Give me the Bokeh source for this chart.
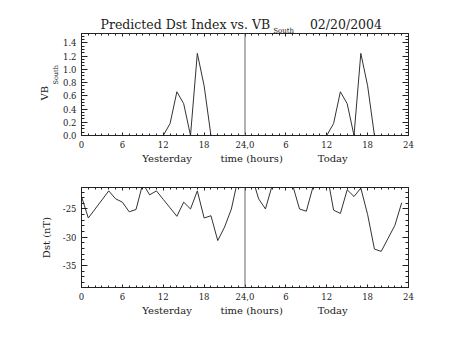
from bokeh.plotting import figure
from bokeh.layouts import column
from bokeh.models import (Range1d, FixedTicker, LinearAxis, Span, Title,
                          ColumnDataSource)
from bokeh.embed import file_html
from bokeh.resources import INLINE

# ---------------- data ----------------
hours = list(range(48))

vb_south = [0, 0, 0, 0, 0, 0, 0, 0, 0, 0, 0, 0,
            0, 0.18, 0.66, 0.48, 0, 1.24, 0.75, 0, 0, 0, 0, 0,
            0, 0, 0, 0, 0, 0, 0, 0, 0, 0, 0, 0,
            0, 0.18, 0.66, 0.48, 0, 1.24, 0.75, 0, 0, 0, 0, 0]

dst = [-22.8, -26.6, -25.0, -23.4, -21.8, -23.2, -23.8, -25.5,
       -25.1, -20.5, -22.5, -21.8, -23.3, -24.8, -26.3, -23.8,
       -25.0, -21.8, -26.6, -26.2, -30.6, -28.2, -25.0, -19.5,
       -19.0, -19.2, -23.2, -25.0, -20.8, -20.0, -20.3, -20.8,
       -25.0, -25.4, -21.0, -20.0, -18.5, -25.2, -25.8, -21.6,
       -22.8, -21.3, -26.0, -32.1, -32.5, -30.2, -27.9, -23.9]

x_ticks = [0, 6, 12, 18, 24, 30, 36, 42, 48]
x_tick_labels = ["0", "6", "12", "18", "24,0", "6", "12", "18", "24"]
x_minor = list(range(49))

vb_ticks = [0.0, 0.2, 0.4, 0.6, 0.8, 1.0, 1.2, 1.4]
vb_tick_labels = ["0.0", "0.2", "0.4", "0.6", "0.8", "1.0", "1.2", "1.4"]
vb_minor = [i * 0.05 for i in range(31)]

dst_ticks = [-35, -30, -25]
dst_tick_labels = ["-35", "-30", "-25"]
dst_minor = list(range(-38, -21))

NB = "\u00a0"
title_main = "Predicted Dst Index vs. VB" + NB * 10 + "02/20/2004"
title_sub = "South"
x_title = "Yesterday" + NB * 9 + "time (hours)" + NB * 11 + "Today"
y1_main = "VB"
y1_sub = "South"
y2_title = "Dst (nT)"

FONT = "DejaVu Serif"
INK = "#222222"
LINE = "#333333"


def style_axis(ax, ticks, labels, minor, tick_in, minor_in, show_labels=True):
    ax.ticker = FixedTicker(ticks=ticks, minor_ticks=minor)
    ax.major_tick_in = tick_in
    ax.major_tick_out = 0
    ax.minor_tick_in = minor_in
    ax.minor_tick_out = 0
    ax.axis_line_color = INK
    ax.major_tick_line_color = INK
    ax.minor_tick_line_color = INK
    ax.major_label_text_font = FONT
    ax.major_label_text_color = INK
    if show_labels:
        ax.major_label_overrides = {t: l for t, l in zip(ticks, labels)}
        ax.major_label_text_font_size = "8.5px"
        ax.major_label_standoff = 5
    else:
        ax.major_label_overrides = {t: "" for t in ticks}
        ax.major_label_text_font_size = "0px"
        ax.major_label_standoff = 0


def make_fig(ymin, ymax, yticks, ylabels, yminor, top, bottom):
    p = figure(width=453, height=170, x_range=Range1d(0, 48),
               y_range=Range1d(ymin, ymax), title_location=None,
               output_backend="svg", toolbar_location=None,
               min_border_left=81, min_border_right=45,
               min_border_top=top, min_border_bottom=bottom)
    p.grid.visible = False
    p.outline_line_color = INK
    p.background_fill_color = "white"
    p.border_fill_color = "white"
    xb = p.below[0]
    yl = p.left[0]
    style_axis(xb, x_ticks, x_tick_labels, x_minor, 3, 2)
    style_axis(yl, yticks, ylabels, yminor, 6, 3)
    xb.axis_label = x_title
    xb.axis_label_text_font = FONT
    xb.axis_label_text_font_style = "normal"
    xb.axis_label_text_font_size = "10px"
    xb.axis_label_text_color = INK
    xb.axis_label_standoff = 2
    ax_top = LinearAxis()
    style_axis(ax_top, x_ticks, x_tick_labels, x_minor, 3, 2, show_labels=False)
    p.add_layout(ax_top, "above")
    ax_right = LinearAxis()
    style_axis(ax_right, yticks, ylabels, yminor, 6, 3, show_labels=False)
    p.add_layout(ax_right, "right")
    p.add_layout(Span(location=24, dimension="height", line_color="#666666",
                      line_width=1))
    return p, yl


# ---------------- top panel ----------------
p1, y1 = make_fig(0, 1.54, vb_ticks, vb_tick_labels, vb_minor, 33, 35)
src1 = ColumnDataSource(dict(h=hours, v=vb_south))
p1.line("h", "v", source=src1, line_color=LINE, line_width=1)

p1.add_layout(Title(text=title_sub, align="left", offset=191.7, standoff=-3,
                    text_font=FONT, text_font_size="7px",
                    text_font_style="normal", text_color=INK), "above")
p1.add_layout(Title(text=title_main, align="left", offset=19, standoff=-10,
                    text_font=FONT, text_font_size="12.5px",
                    text_font_style="normal", text_color=INK), "above")
p1.add_layout(Title(text=y1_sub, align="left", offset=51, standoff=0,
                    text_font=FONT, text_font_size="6.5px",
                    text_font_style="normal", text_color=INK), "left")
p1.add_layout(Title(text=y1_main, align="left", offset=35, standoff=0,
                    text_font=FONT, text_font_size="10px",
                    text_font_style="normal", text_color=INK), "left")

# ---------------- bottom panel ----------------
p2, y2 = make_fig(-38.9, -21.2, dst_ticks, dst_tick_labels, dst_minor, 17, 53)
src2 = ColumnDataSource(dict(h=hours, d=dst))
p2.line("h", "d", source=src2, line_color=LINE, line_width=1)
y2.axis_label = y2_title
y2.axis_label_text_font = FONT
y2.axis_label_text_font_style = "normal"
y2.axis_label_text_font_size = "10px"
y2.axis_label_text_color = INK
y2.axis_label_standoff = 8

layout = column(p1, p2, spacing=0)
open("out.html", "w").write(file_html(layout, INLINE))
